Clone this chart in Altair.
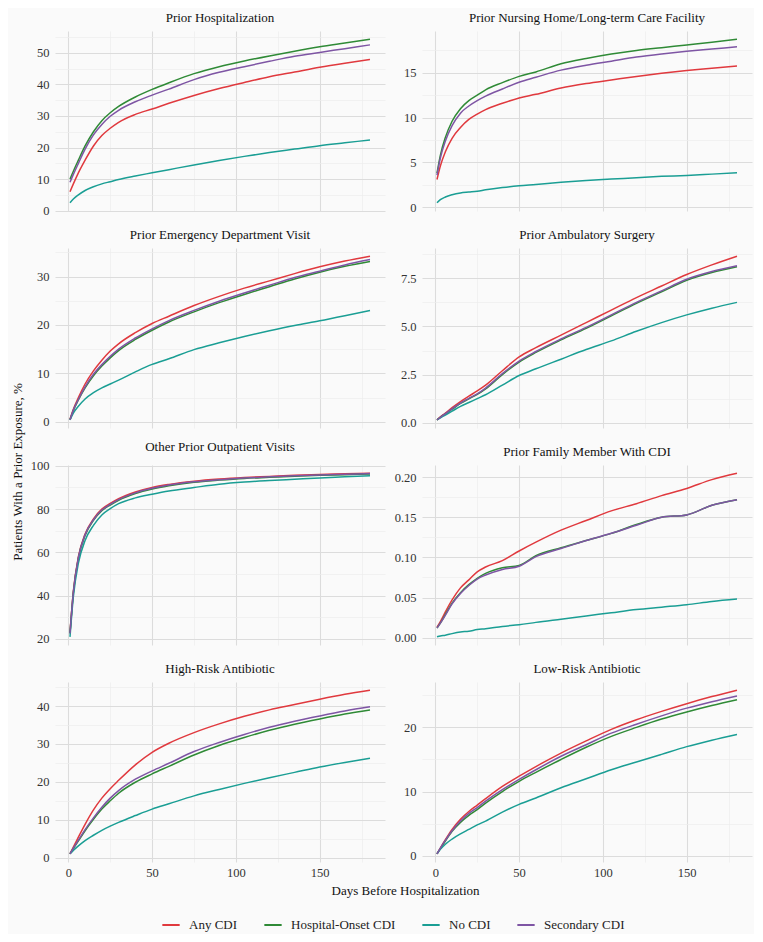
import altair as alt
import pandas as pd

series = ["Any CDI", "Hospital-Onset CDI", "No CDI", "Secondary CDI"]
colors = ["#E0393E", "#2F8A36", "#1A9E94", "#7E55A4"]

days = [1, 3, 6, 10, 15, 20, 25, 30, 40, 50, 60, 75, 90, 105, 120, 135, 150, 165, 180]

titles = [
    "Prior Hospitalization",
    "Prior Nursing Home/Long-term Care Facility",
    "Prior Emergency Department Visit",
    "Prior Ambulatory Surgery",
    "Other Prior Outpatient Visits",
    "Prior Family Member With CDI",
    "High-Risk Antibiotic",
    "Low-Risk Antibiotic",
]

# --- values per panel: Any, Hospital-Onset, No, Secondary ---
hosp_any = [6.0, 8.5, 12.0, 16.0, 20.5, 23.8, 26.1, 28.0, 30.5, 32.2, 34.0, 36.5, 38.7, 40.6, 42.4, 43.9, 45.4, 46.7, 47.9]
hosp_ho = [10.0, 12.5, 16.0, 20.5, 25.0, 28.5, 31.0, 33.0, 36.0, 38.4, 40.5, 43.4, 45.6, 47.4, 49.0, 50.5, 51.9, 53.1, 54.3]
hosp_no = [2.5, 3.7, 5.0, 6.4, 7.6, 8.5, 9.2, 9.9, 11.0, 12.0, 13.0, 14.5, 15.9, 17.2, 18.4, 19.5, 20.6, 21.5, 22.4]
hosp_sec = [9.0, 11.5, 15.0, 19.5, 24.0, 27.3, 29.9, 31.8, 34.5, 36.6, 38.5, 41.5, 43.8, 45.6, 47.3, 48.9, 50.1, 51.3, 52.5]

nh_any = [3.1, 4.6, 6.2, 7.7, 8.9, 9.8, 10.4, 10.9, 11.6, 12.2, 12.6, 13.3, 13.8, 14.2, 14.6, 14.95, 15.25, 15.5, 15.75]
nh_ho = [3.8, 5.8, 7.8, 9.6, 11.0, 11.9, 12.5, 13.1, 13.9, 14.6, 15.1, 16.0, 16.6, 17.1, 17.5, 17.8, 18.1, 18.4, 18.75]
nh_no = [0.5, 0.85, 1.15, 1.4, 1.6, 1.7, 1.8, 1.95, 2.2, 2.4, 2.55, 2.8, 3.0, 3.15, 3.3, 3.45, 3.55, 3.7, 3.85]
nh_sec = [3.6, 5.5, 7.4, 9.1, 10.5, 11.3, 11.9, 12.4, 13.2, 13.95, 14.5, 15.3, 15.85, 16.3, 16.75, 17.1, 17.4, 17.65, 17.9]

ed_any = [0.5, 2.6, 5.0, 7.8, 10.5, 12.7, 14.6, 16.1, 18.4, 20.3, 21.8, 24.0, 25.9, 27.6, 29.1, 30.6, 32.0, 33.2, 34.2]
ed_ho = [0.4, 2.3, 4.5, 7.0, 9.5, 11.5, 13.2, 14.7, 17.0, 18.9, 20.6, 22.7, 24.6, 26.3, 27.9, 29.5, 30.9, 32.1, 33.1]
ed_no = [0.4, 1.8, 3.2, 4.7, 6.0, 7.0, 7.8, 8.6, 10.3, 11.85, 13.0, 14.9, 16.3, 17.6, 18.8, 19.9, 20.85, 21.9, 23.0]
ed_sec = [0.4, 2.4, 4.6, 7.2, 9.8, 11.8, 13.5, 15.0, 17.3, 19.2, 20.9, 23.0, 24.9, 26.6, 28.2, 29.8, 31.1, 32.4, 33.5]

amb_any = [0.15, 0.3, 0.5, 0.78, 1.1, 1.38, 1.65, 1.95, 2.7, 3.42, 3.9, 4.55, 5.2, 5.85, 6.5, 7.1, 7.7, 8.2, 8.65]
amb_ho = [0.15, 0.28, 0.46, 0.7, 1.0, 1.24, 1.47, 1.76, 2.5, 3.15, 3.65, 4.3, 4.9, 5.55, 6.2, 6.8, 7.4, 7.8, 8.1]
amb_no = [0.15, 0.25, 0.4, 0.6, 0.85, 1.05, 1.25, 1.45, 1.95, 2.45, 2.8, 3.3, 3.8, 4.25, 4.75, 5.2, 5.6, 5.95, 6.25]
amb_sec = [0.15, 0.28, 0.47, 0.72, 1.02, 1.26, 1.5, 1.8, 2.55, 3.2, 3.7, 4.35, 4.95, 5.6, 6.25, 6.85, 7.45, 7.85, 8.15]

op_any = [23.0, 42.0, 58.0, 68.5, 75.5, 80.0, 82.6, 84.8, 87.9, 90.0, 91.4, 92.9, 93.9, 94.6, 95.1, 95.6, 96.0, 96.3, 96.6]
op_ho = [22.6, 41.4, 57.3, 67.8, 74.8, 79.3, 81.9, 84.1, 87.2, 89.3, 90.8, 92.4, 93.4, 94.2, 94.7, 95.2, 95.6, 95.9, 96.2]
op_no = [21.0, 39.5, 55.0, 65.5, 72.5, 77.3, 80.2, 82.5, 85.2, 86.9, 88.4, 90.0, 91.5, 92.5, 93.2, 93.8, 94.4, 94.9, 95.4]
op_sec = [22.6, 41.6, 57.6, 68.1, 75.1, 79.6, 82.2, 84.4, 87.5, 89.6, 91.1, 92.6, 93.6, 94.4, 94.9, 95.4, 95.8, 96.1, 96.4]

fam_any = [0.013, 0.020, 0.032, 0.047, 0.062, 0.072, 0.082, 0.088, 0.096, 0.108, 0.119, 0.134, 0.146, 0.158, 0.167, 0.177, 0.186, 0.197, 0.205]
fam_ho = [0.012, 0.018, 0.029, 0.043, 0.056, 0.066, 0.074, 0.080, 0.087, 0.090, 0.102, 0.112, 0.121, 0.130, 0.141, 0.150, 0.153, 0.165, 0.172]
fam_no = [0.001, 0.002, 0.003, 0.005, 0.007, 0.008, 0.010, 0.011, 0.014, 0.016, 0.019, 0.023, 0.027, 0.031, 0.035, 0.038, 0.041, 0.045, 0.048]
fam_sec = [0.012, 0.018, 0.028, 0.042, 0.055, 0.065, 0.073, 0.078, 0.085, 0.089, 0.101, 0.111, 0.121, 0.130, 0.140, 0.150, 0.153, 0.165, 0.172]

hr_any = [1.0, 2.8, 5.4, 8.8, 12.6, 15.7, 18.2, 20.4, 24.5, 27.8, 30.2, 33.0, 35.3, 37.3, 39.0, 40.4, 41.8, 43.1, 44.2]
hr_ho = [1.0, 2.4, 4.4, 7.1, 10.1, 12.8, 15.0, 17.0, 19.9, 22.1, 24.1, 27.1, 29.6, 31.7, 33.6, 35.2, 36.6, 37.9, 39.0]
hr_no = [1.0, 1.9, 3.1, 4.5, 5.9, 7.2, 8.3, 9.3, 11.1, 12.8, 14.2, 16.3, 18.0, 19.6, 21.1, 22.5, 23.9, 25.1, 26.2]
hr_sec = [1.0, 2.5, 4.6, 7.4, 10.5, 13.3, 15.7, 17.7, 20.7, 22.9, 24.9, 28.0, 30.4, 32.5, 34.4, 36.0, 37.4, 38.7, 39.8]

lr_any = [0.3, 1.2, 2.5, 4.1, 5.7, 6.9, 7.9, 8.9, 10.8, 12.4, 13.9, 16.0, 17.9, 19.7, 21.2, 22.5, 23.7, 24.8, 25.8]
lr_ho = [0.3, 1.1, 2.3, 3.8, 5.2, 6.3, 7.2, 8.2, 10.0, 11.6, 13.0, 15.0, 16.9, 18.6, 20.0, 21.3, 22.4, 23.4, 24.3]
lr_no = [0.3, 1.0, 1.8, 2.6, 3.4, 4.1, 4.8, 5.4, 6.8, 8.0, 9.0, 10.6, 12.0, 13.4, 14.6, 15.8, 17.0, 18.0, 18.9]
lr_sec = [0.3, 1.2, 2.4, 3.9, 5.4, 6.6, 7.5, 8.5, 10.3, 11.9, 13.4, 15.5, 17.3, 19.1, 20.5, 21.8, 23.0, 24.0, 24.9]

panel_values = [
    [hosp_any, hosp_ho, hosp_no, hosp_sec],
    [nh_any, nh_ho, nh_no, nh_sec],
    [ed_any, ed_ho, ed_no, ed_sec],
    [amb_any, amb_ho, amb_no, amb_sec],
    [op_any, op_ho, op_no, op_sec],
    [fam_any, fam_ho, fam_no, fam_sec],
    [hr_any, hr_ho, hr_no, hr_sec],
    [lr_any, lr_ho, lr_no, lr_sec],
]

# axis ticks (labels) and minor grid positions
y_major = [
    [0, 10, 20, 30, 40, 50],
    [0, 5, 10, 15],
    [0, 10, 20, 30],
    [0, 2.5, 5, 7.5],
    [20, 40, 60, 80, 100],
    [0, 0.05, 0.10, 0.15, 0.20],
    [0, 10, 20, 30, 40],
    [0, 10, 20],
]
y_minor = [
    [5, 15, 25, 35, 45, 55],
    [2.5, 7.5, 12.5, 17.5],
    [5, 15, 25, 35],
    [1.25, 3.75, 6.25, 8.75],
    [30, 50, 70, 90],
    [0.025, 0.075, 0.125, 0.175],
    [5, 15, 25, 35, 45],
    [5, 15, 25],
]
y_format = ["d", "d", "d", ".1f", "d", ".2f", "d", "d"]
x_major = [0, 50, 100, 150]
x_minor = [25, 75, 125, 175]

FONT = "Liberation Serif, DejaVu Serif, serif"
PW, PH = 330, 180


def padded(vals_list):
    lo = min(min(v) for v in vals_list)
    hi = max(max(v) for v in vals_list)
    e = (hi - lo) * 0.05
    return [lo - e, hi + e]


x_domain = [days[0] - (days[-1] - days[0]) * 0.05, days[-1] + (days[-1] - days[0]) * 0.05]


def panel(i):
    rows = []
    for s, vals in zip(series, panel_values[i]):
        for d, v in zip(days, vals):
            rows.append({"day": d, "value": v, "series": s})
    df = pd.DataFrame(rows)
    bottom = i >= 6
    xs = alt.Scale(domain=x_domain, nice=False, zero=False)
    ys = alt.Scale(domain=padded(panel_values[i]), nice=False, zero=False)
    base = alt.Chart(df)
    minor = base.mark_line(opacity=0).encode(
        x=alt.X("day:Q", scale=xs, axis=alt.Axis(
            values=x_minor, grid=True, gridColor="#ececec", gridWidth=0.7,
            labels=False, ticks=False, domain=False, title=None, orient="bottom")),
        y=alt.Y("value:Q", scale=ys, axis=alt.Axis(
            values=y_minor[i], grid=True, gridColor="#ececec", gridWidth=0.7,
            labels=False, ticks=False, domain=False, title=None, orient="left")),
        detail="series:N",
    )
    xaxis_kwargs = dict(values=x_major, grid=True, gridColor="#dcdcdc", gridWidth=1.1,
                        ticks=False, domain=False, labelPadding=4, orient="bottom")
    if bottom:
        xaxis_kwargs["labels"] = True
        if i == 6:
            xaxis_kwargs.update(title="Days Before Hospitalization", titleX=PW + 20,
                                titleAlign="center", titlePadding=6)
        else:
            xaxis_kwargs["title"] = None
    else:
        xaxis_kwargs.update(labels=False, title=None)
    major = base.mark_line(strokeWidth=1.5, interpolate="monotone").encode(
        x=alt.X("day:Q", scale=xs, axis=alt.Axis(**xaxis_kwargs)),
        y=alt.Y("value:Q", scale=ys, axis=alt.Axis(
            values=y_major[i], format=y_format[i], grid=True, gridColor="#dcdcdc",
            gridWidth=1.1, ticks=False, domain=False, title=None, labelPadding=6,
            orient="left")),
        color=alt.Color("series:N", scale=alt.Scale(domain=series, range=colors),
                        legend=alt.Legend(
                            title=None, orient="none", direction="horizontal",
                            legendX=106, legendY=884, columns=4, columnPadding=22,
                            symbolType="stroke", symbolSize=300, symbolStrokeWidth=2,
                            labelFontSize=13, labelFont=FONT, labelColor="#222222",
                            labelOffset=8)),
    )
    return alt.layer(minor, major).resolve_axis(x="independent", y="independent").properties(
        width=PW, height=PH,
        title=alt.TitleParams(titles[i], fontSize=13, font=FONT, fontWeight="normal",
                              color="#111111", offset=6, anchor="middle"),
    )


panels = [panel(i) for i in range(8)]

chart = alt.concat(*panels, columns=2, spacing=37, bounds="flush").properties(
    title=alt.TitleParams("Patients With a Prior Exposure, %", orient="left", anchor="middle",
                          fontSize=13, font=FONT, fontWeight="normal", color="#111111",
                          offset=5),
    padding={"left": 4, "top": 4, "right": 2, "bottom": 2},
).configure(
    background="#fafafa",
    font=FONT,
).configure_view(
    stroke=None,
).configure_axis(
    labelFont=FONT, labelFontSize=12.5, labelColor="#333333",
    titleFont=FONT, titleFontSize=13, titleFontWeight="normal", titleColor="#111111",
)

chart.save("out.html", embed_options={"renderer": "svg", "actions": False})
